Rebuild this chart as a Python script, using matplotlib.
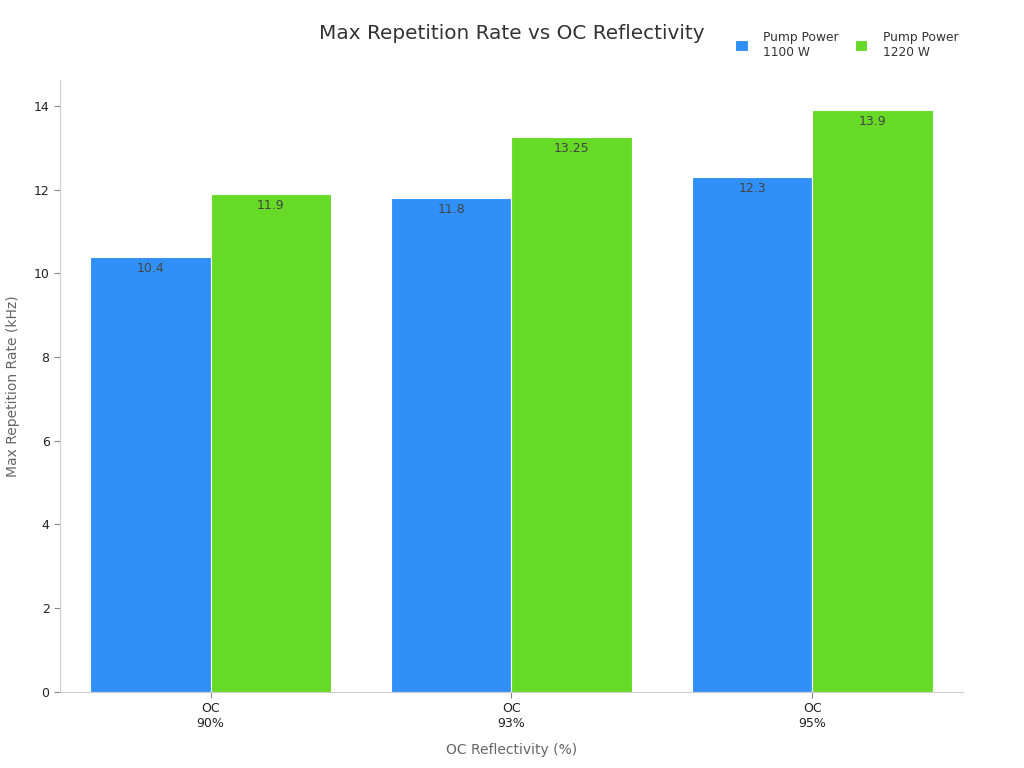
import numpy as np
import matplotlib.pyplot as plt

categories = ["OC\n90%", "OC\n93%", "OC\n95%"]
series_names = ["Pump Power\n1100 W", "Pump Power\n1220 W"]
rate_1100 = [10.4, 11.8, 12.3]
rate_1220 = [11.9, 13.25, 13.9]
colors = ["#3190f7", "#67da28"]

fig = plt.figure(figsize=(10.24, 7.68), dpi=100)
ax = fig.add_axes([0.0586, 0.099, 0.8818, 0.797])

x = np.arange(len(categories))
w = 0.4
for i, (vals, name) in enumerate(zip([rate_1100, rate_1220], series_names)):
    pos = x - w / 2 + i * w
    bars = ax.bar(pos, vals, w, color=colors[i], edgecolor="white", linewidth=0.8, label=name)
    for b, v in zip(bars, vals):
        ax.text(b.get_x() + b.get_width() / 2, v - 0.12, f"{v:g}", ha="center", va="top",
                fontsize=9, color="#444444")

ax.set_xlim(-0.5, 2.5)
ax.set_ylim(0, 14.62)
ax.set_xticks(x)
ax.set_xticklabels(categories, fontsize=9, color="#222222")
ax.set_yticks(range(0, 15, 2))
ax.tick_params(axis="y", labelsize=9, colors="#222222", length=4)
ax.tick_params(axis="x", length=4)
for s in ["top", "right"]:
    ax.spines[s].set_visible(False)
for s in ["left", "bottom"]:
    ax.spines[s].set_color("#cccccc")
ax.tick_params(axis="both", color="#888888")

ax.set_xlabel("OC Reflectivity (%)", fontsize=10, color="#666666", labelpad=9)
ax.set_ylabel("Max Repetition Rate (kHz)", fontsize=10, color="#666666", labelpad=10)
fig.text(0.5, 0.957, "Max Repetition Rate vs OC Reflectivity", ha="center", va="center",
         fontsize=14.4, color="#333333")

leg = fig.legend(loc="center right", bbox_to_anchor=(0.947, 0.942), ncol=2, frameon=False,
                 fontsize=8.8, handlelength=1.0, handleheight=1.0, columnspacing=1.3,
                 handletextpad=1.3)
for t in leg.get_texts():
    t.set_color("#333333")

fig.savefig("out.png", dpi=100)
